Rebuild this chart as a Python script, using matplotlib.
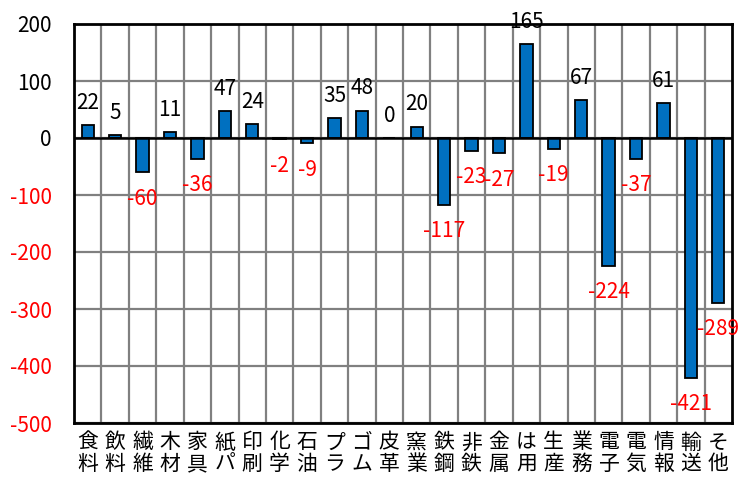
import matplotlib
matplotlib.use("Agg")
import matplotlib.pyplot as plt
import numpy as np

plt.rcParams['font.family'] = ['Noto Sans CJK JP', 'DejaVu Sans']

categories = ["食料", "飲料", "繊維", "木材", "家具", "紙パ", "印刷", "化学", "石油", "プラ", "ゴム", "皮革",
              "窯業", "鉄鋼", "非鉄", "金属", "は用", "生産", "業務", "電子", "電気", "情報", "輸送", "その他"]
values = [22, 5, -60, 11, -36, 47, 24, -2, -9, 35, 48, 0, 20, -117, -23, -27, 165, -19, 67, -224, -37, 61, -421, -289]
yticks = [200, 100, 0, -100, -200, -300, -400, -500]

fig = plt.figure(figsize=(7.47, 4.82), dpi=100)
ax = fig.add_axes([74/747, 1-423/482, (732-74)/747, (423-24)/482])

x = np.arange(len(categories))
ax.bar(x, values, width=0.45, color='#0070C0', edgecolor='black', linewidth=1.3, zorder=3)

ax.set_xlim(-0.5, len(categories)-0.5)
ax.set_ylim(-500, 200)
ax.set_yticks(yticks)
ax.set_yticklabels([str(v) for v in yticks], fontsize=15)
for lbl, v in zip(ax.get_yticklabels(), yticks):
    lbl.set_color('black' if v >= 0 else '#FF0000')
ax.tick_params(axis='y', length=0, pad=16)
ax.set_xticks(x)
ax.set_xticklabels([])
ax.tick_params(axis='x', length=0)

# grid
for v in yticks:
    ax.axhline(v, color='#808080', lw=1.6, zorder=1)
for b in np.arange(0.5, len(categories)-0.5, 1):
    ax.axvline(b, color='#808080', lw=1.6, zorder=1)
ax.axhline(0, color='black', lw=1.8, zorder=4)
for s in ax.spines.values():
    s.set_linewidth(2)
    s.set_color('black')
    s.set_zorder(5)

# data labels
for xi, v in zip(x, values):
    if v >= 0:
        ax.annotate(str(v), (xi, v), xytext=(0, 16), textcoords='offset points',
                    ha='center', va='center', fontsize=15, color='black', zorder=6,
                    annotation_clip=False)
    else:
        ax.annotate(str(v), (xi, v), xytext=(0, -19), textcoords='offset points',
                    ha='center', va='center', fontsize=15, color='#FF0000', zorder=6,
                    annotation_clip=False)

# category labels (two characters stacked)
for xi, c in zip(x, categories):
    if c == "その他":
        top, bot = "そ", "他"
    else:
        top, bot = c[0], c[1]
    ax.annotate(top, (xi, 0), xycoords=('data', 'axes fraction'), xytext=(0, -14),
                textcoords='offset points', ha='center', va='center', fontsize=15,
                annotation_clip=False)
    ax.annotate(bot, (xi, 0), xycoords=('data', 'axes fraction'), xytext=(0, -29.5),
                textcoords='offset points', ha='center', va='center', fontsize=15,
                annotation_clip=False)

fig.savefig("out.png", dpi=100)
